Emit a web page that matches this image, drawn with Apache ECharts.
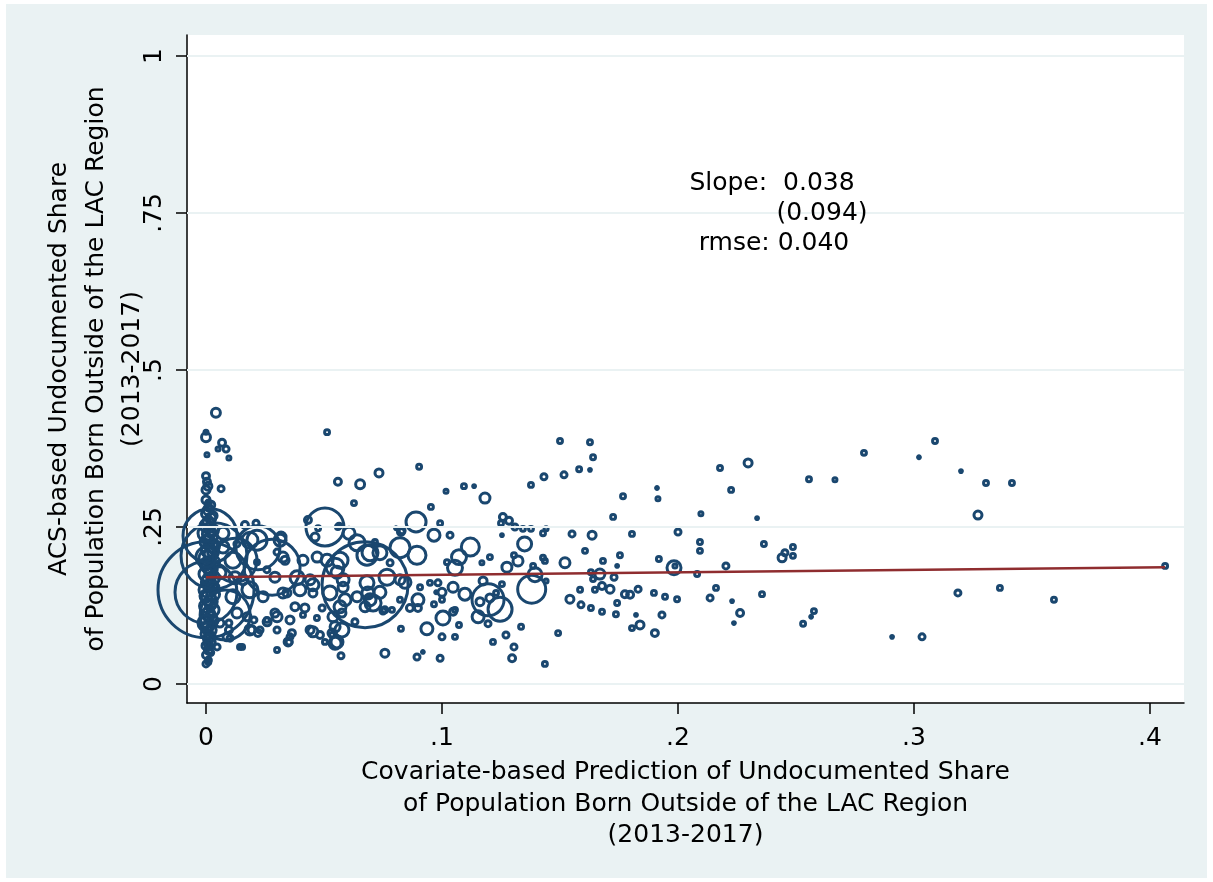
<!DOCTYPE html>
<html>
<head>
<meta charset="utf-8">
<script src="https://cdn.jsdelivr.net/npm/echarts@6/dist/echarts.min.js"></script>
<style>
  html, body { margin: 0; background: #fff; }
  #chart { position: absolute; left: 6px; top: 4px; width: 1201px; height: 874px; }
</style>
</head>
<body>
<div id="chart"></div>
<script>
// [prediction, ACS share, population weight]
const nearZeroColumn = [
  [0.000,0.293,16],[0.002,0.285,16],[0.001,0.277,25],[0.000,0.271,20],[0.002,0.264,25],
  [0.001,0.258,30],[0.000,0.252,36],[0.003,0.245,30],[0.001,0.239,36],[0.002,0.232,42],
  [0.000,0.226,36],[0.003,0.220,42],[0.001,0.213,49],[0.002,0.207,42],[0.000,0.201,49],
  [0.003,0.194,42],[0.001,0.188,49],[0.002,0.182,42],[0.000,0.175,49],[0.003,0.169,42],
  [0.001,0.162,49],[0.002,0.156,42],[0.000,0.150,49],[0.003,0.143,42],[0.001,0.137,49],
  [0.002,0.131,42],[0.000,0.124,42],[0.003,0.118,36],[0.001,0.111,42],[0.002,0.105,36],
  [0.000,0.099,36],[0.001,0.092,30],[0.002,0.086,30],[0.000,0.080,25],[0.001,0.073,25],
  [0.002,0.067,20],[0.000,0.061,16],[0.001,0.054,16],[0.000,0.046,12],[0.001,0.038,9],
  [0.000,0.032,9],
  [0.001,0.281,12],[0.003,0.268,16],[0.000,0.255,20],[0.002,0.242,25],[0.001,0.229,30],
  [0.003,0.210,30],[0.000,0.191,36],[0.002,0.178,36],[0.001,0.166,36],[0.003,0.153,36],
  [0.000,0.140,36],[0.002,0.127,30],[0.001,0.114,30],[0.003,0.101,25],[0.000,0.089,25],
  [0.002,0.076,20],[0.001,0.064,16],[0.002,0.050,9],[0.001,0.035,6]
]

const nearZeroOutliers = [
  [0.0042,0.432,20],[0.000,0.401,4],[0.000,0.393,20],[0.0068,0.384,12],[0.0051,0.374,4],
  [0.0085,0.374,9],[0.0004,0.365,4],[0.0097,0.360,4],[0.000,0.331,12],[0.0004,0.322,12],
  [0.0008,0.315,16],[0.000,0.309,16],[0.0064,0.311,9],[0.001,0.288,9]
]

const bigCircles = [
  [0.000,0.150,2304],[0.000,0.146,961],[0.0017,0.236,729],[0.0034,0.204,1089],
  [0.0081,0.110,625],[0.0123,0.197,484],[0.028,0.186,784],[0.022,0.217,484],
  [0.0504,0.250,361],[0.0674,0.158,1849],[0.1195,0.134,256],[0.138,0.151,196],
  [0.1246,0.119,144],[0.112,0.218,81],[0.135,0.223,49],[0.089,0.258,100],
  [0.0822,0.217,100],[0.0682,0.205,100],[0.0216,0.229,100],[0.000,0.240,64],
  [0.000,0.202,100],[0.000,0.097,64]
]

const lowX = [
  [0.0165,0.253,12],[0.0212,0.256,9],[0.0186,0.229,64],[0.0314,0.229,36],[0.0326,0.202,25],
  [0.0216,0.194,6],[0.0114,0.197,64],[0.0123,0.169,36],[0.0157,0.166,25],[0.0114,0.139,49],
  [0.0186,0.150,64],[0.0242,0.139,25],[0.0131,0.113,25],[0.0174,0.107,16],[0.0186,0.086,25],
  [0.0229,0.086,9],[0.0259,0.099,16],[0.0301,0.107,25],[0.0089,0.075,16],[0.0059,0.097,16],
  [0.0144,0.059,6],[0.0047,0.059,9],[0.0072,0.240,36],[0.0072,0.218,36],[0.0059,0.177,36],
  [0.0131,0.223,9],[0.0318,0.234,25],[0.0335,0.197,16],[0.0301,0.210,9],[0.0292,0.170,25],
  [0.0258,0.182,9],[0.0343,0.145,16],[0.0292,0.113,16],[0.0258,0.102,6],[0.0356,0.102,16],
  [0.0301,0.086,9],[0.0364,0.081,12],[0.0352,0.067,9],[0.0301,0.054,6],[0.0153,0.059,6],
  [0.0102,0.073,9],[0.0097,0.086,12],[0.0195,0.086,16],[0.0220,0.081,12],[0.0203,0.102,9],
  [0.0097,0.097,9],[0.0441,0.086,16],[0.0432,0.261,12],[0.0559,0.250,6],[0.0411,0.197,25],
  [0.0386,0.169,49],[0.0441,0.166,25],[0.0326,0.145,25],[0.0398,0.150,36],[0.0453,0.145,16],
  [0.0377,0.123,16],[0.0419,0.121,16],[0.0492,0.121,9],[0.0411,0.110,6],[0.0453,0.083,25],
  [0.0483,0.078,12],[0.0356,0.075,9],[0.0348,0.067,16]
]

const midX = [
  [0.0695,0.209,64],[0.0826,0.242,12],[0.0555,0.178,36],[0.0581,0.166,36],[0.0682,0.161,49],
  [0.0695,0.134,36],[0.0767,0.170,64],[0.0822,0.166,25],[0.0589,0.134,36],[0.0538,0.107,25],
  [0.0576,0.113,16],[0.0758,0.118,9],[0.0788,0.118,6],[0.0470,0.105,6],[0.0547,0.091,25],
  [0.0576,0.086,49],[0.0534,0.078,6],[0.0547,0.065,36],[0.0631,0.099,9],[0.0758,0.049,16],
  [0.0894,0.043,9],[0.0513,0.401,6],[0.0559,0.322,12],[0.0653,0.318,20],[0.0733,0.336,16],
  [0.0903,0.346,6],[0.1017,0.307,4],[0.0627,0.288,6],[0.0953,0.282,6],[0.0992,0.256,6],
  [0.0966,0.237,36],[0.1034,0.237,9],[0.0831,0.244,9],[0.0805,0.248,2],[0.0475,0.248,6],
  [0.0564,0.252,6],[0.0462,0.234,16],[0.0606,0.240,36],[0.0640,0.225,64],[0.0716,0.226,6],
  [0.0737,0.209,49],[0.0780,0.193,9],[0.0568,0.197,64],[0.0513,0.197,36],[0.0471,0.202,25],
  [0.0547,0.186,81],[0.0894,0.205,81],[0.1072,0.202,56],[0.1021,0.194,6],[0.1055,0.185,56],
  [0.0843,0.162,36],[0.0949,0.161,6],[0.0983,0.161,9],[0.0907,0.154,6],[0.0975,0.146,2],
  [0.1000,0.146,16],[0.1047,0.154,25],[0.0453,0.158,36],[0.0525,0.145,49],[0.0581,0.154,25],
  [0.0640,0.139,25],[0.0686,0.145,36],[0.0737,0.146,36],[0.0708,0.129,64],[0.0674,0.123,25],
  [0.0822,0.134,6],[0.0864,0.121,12],[0.0898,0.134,36],[0.0898,0.121,12],[0.0966,0.127,6],
  [0.1000,0.134,6],[0.0750,0.116,9],[0.0568,0.123,36],[0.0534,0.081,16],[0.0555,0.067,36],
  [0.0504,0.067,6],[0.0826,0.088,6],[0.0936,0.088,36],[0.1004,0.105,49],[0.1047,0.115,12],
  [0.1000,0.075,9],[0.1055,0.075,6],[0.0572,0.045,9],[0.0919,0.051,2],[0.0992,0.041,9]
]

const highX = [
  [0.1500,0.387,6],[0.1627,0.385,6],[0.1640,0.361,6],[0.1581,0.342,6],[0.1627,0.341,2],
  [0.1517,0.333,9],[0.1432,0.330,9],[0.1377,0.317,6],[0.1093,0.315,6],[0.1136,0.315,2],
  [0.1182,0.296,25],[0.1767,0.299,6],[0.1725,0.266,6],[0.1258,0.266,12],[0.1284,0.260,12],
  [0.1250,0.256,6],[0.1309,0.250,9],[0.1343,0.247,6],[0.1377,0.247,6],[0.1441,0.247,4],
  [0.1428,0.240,6],[0.1254,0.237,2],[0.1551,0.239,9],[0.1636,0.237,16],[0.1606,0.212,6],
  [0.1754,0.205,6],[0.1203,0.202,6],[0.1305,0.205,6],[0.1322,0.196,25],[0.1428,0.201,6],
  [0.1436,0.196,6],[0.1682,0.196,6],[0.1742,0.188,2],[0.1521,0.193,25],[0.1275,0.186,25],
  [0.1169,0.193,4],[0.1386,0.188,6],[0.1394,0.174,49],[0.1631,0.178,6],[0.1669,0.175,25],
  [0.1729,0.170,9],[0.1640,0.167,6],[0.1174,0.164,16],[0.1441,0.164,4],[0.1254,0.159,6],
  [0.1678,0.156,12],[0.1712,0.151,16],[0.1585,0.150,6],[0.1648,0.150,6],[0.1097,0.143,36],
  [0.1229,0.145,6],[0.1203,0.137,16],[0.1542,0.135,16],[0.1161,0.131,16],[0.1589,0.126,9],
  [0.1742,0.129,6],[0.1055,0.118,6],[0.1631,0.121,6],[0.1678,0.115,6],[0.1737,0.111,6],
  [0.1153,0.107,36],[0.1195,0.096,9],[0.1072,0.094,6],[0.1335,0.091,6],[0.1492,0.081,6],
  [0.1271,0.078,9],[0.1216,0.067,6],[0.1305,0.059,9],[0.1297,0.041,12],[0.1436,0.032,6]
]

const farX = [
  [0.2297,0.352,16],[0.2178,0.344,6],[0.2225,0.309,6],[0.1911,0.312,2],[0.1915,0.295,4],
  [0.2097,0.271,4],[0.2335,0.264,2],[0.1805,0.239,6],[0.2000,0.242,9],[0.2093,0.226,6],
  [0.2093,0.212,6],[0.2364,0.223,6],[0.2487,0.218,6],[0.2453,0.209,9],[0.2441,0.201,16],
  [0.2487,0.204,6],[0.1919,0.199,6],[0.1983,0.185,49],[0.1987,0.188,4],[0.2203,0.188,9],
  [0.2081,0.175,6],[0.1831,0.151,9],[0.1775,0.143,12],[0.1797,0.142,12],[0.1898,0.145,6],
  [0.1945,0.139,6],[0.1996,0.135,6],[0.2161,0.153,6],[0.2136,0.137,9],[0.2356,0.143,6],
  [0.2229,0.132,2],[0.1822,0.110,2],[0.1932,0.110,9],[0.2263,0.113,12],[0.2237,0.097,2],
  [0.1839,0.094,16],[0.1805,0.089,6],[0.1902,0.081,12],[0.2555,0.326,6],[0.2665,0.325,4],
  [0.2788,0.368,6],[0.3021,0.361,2],[0.3089,0.387,6],[0.3199,0.339,2],[0.3305,0.320,6],
  [0.3415,0.320,6],[0.3271,0.269,16],[0.4064,0.188,6],[0.3186,0.145,9],[0.3364,0.153,6],
  [0.3593,0.134,6],[0.2576,0.116,6],[0.2564,0.107,2],[0.2530,0.096,6],[0.2907,0.075,2],
  [0.3034,0.075,9]
]

// fitted line end points
const fitX = [0, 0.4064]
const fitY = [0.170, 0.186]

const xTicks = [0, 0.1, 0.2, 0.3, 0.4]
const yTicks = [0, 0.25, 0.5, 0.75, 1]

const xTitle = "Covariate-based Prediction of Undocumented Share\nof Population Born Outside of the LAC Region\n(2013-2017)"
const yTitle = "ACS-based Undocumented Share\nof Population Born Outside of the LAC Region\n(2013-2017)"
const statLines = ["Slope:  0.038", "(0.094)", "rmse: 0.040"]

const FONT = "DejaVu Sans"
const NAVY = "#1a476f"

// Stata style: 0 stays "0", 0.25 becomes ".25"
function stataNum(v) {
  if (v === 0) return "0"
  if (v === 1) return "1"
  return String(v).replace(/^0\./, ".")
}

const points = [].concat(nearZeroColumn, nearZeroOutliers, bigCircles, lowX, midX, highX, farX)

const chart = echarts.init(document.getElementById("chart"))

const axisLineStyle = { color: "#000", width: 1.5 }
const labelStyle = { fontFamily: FONT, fontSize: 25, color: "#000" }

function statText(text, x, y) {
  return {
    type: "text", x, y, z: 100,
    style: {
      text, font: "25px 'DejaVu Sans'", fill: "#000",
      align: "center", verticalAlign: "middle", textAlign: "center", textVerticalAlign: "middle"
    }
  }
}

chart.setOption({
  animation: false,
  backgroundColor: "#eaf2f3",
  textStyle: { fontFamily: FONT },
  grid: {
    left: 181, top: 31, right: 23, bottom: 175,
    show: true, backgroundColor: "#fff", borderWidth: 0,
    outerBoundsMode: "none"
  },
  xAxis: {
    type: "value",
    min: -0.00805,
    max: 0.4144,
    splitLine: { show: false },
    axisLine: { onZero: false, lineStyle: axisLineStyle },
    axisTick: { customValues: xTicks, length: 11, lineStyle: axisLineStyle },
    axisLabel: { customValues: xTicks, formatter: stataNum, margin: 23, ...labelStyle },
    name: xTitle,
    nameLocation: "middle",
    nameGap: 54,
    nameMoveOverlap: false,
    nameTextStyle: { ...labelStyle, lineHeight: 31.5 }
  },
  yAxis: {
    type: "value",
    min: -0.0303,
    max: 1.0334,
    splitLine: { show: false },
    axisLine: { onZero: false, lineStyle: axisLineStyle },
    axisTick: { customValues: yTicks, length: 11, lineStyle: axisLineStyle },
    axisLabel: { customValues: yTicks, formatter: stataNum, rotate: 90, margin: 20, ...labelStyle },
    name: yTitle,
    nameLocation: "middle",
    nameGap: 36,
    nameMoveOverlap: false,
    nameTextStyle: { ...labelStyle, lineHeight: 36.5 }
  },
  graphic: [
    statText(statLines[0], 766, 179),
    statText(statLines[1], 816, 209),
    statText(statLines[2], 768, 239)
  ],
  series: [
    {
      // horizontal grid lines at the labelled y ticks
      type: "line",
      data: [],
      silent: true,
      z: 1,
      markLine: {
        silent: true,
        symbol: "none",
        label: { show: false },
        lineStyle: { color: "#eaf2f3", width: 2, type: "solid" },
        data: yTicks.map((v) => ({ yAxis: v }))
      }
    },
    {
      type: "scatter",
      data: points,
      symbol: "circle",
      symbolSize: (d) => 2 * Math.sqrt(d[2]),
      itemStyle: { color: "rgba(0,0,0,0)", borderColor: NAVY, borderWidth: 3, opacity: 1 },
      emphasis: { disabled: true },
      silent: true,
      z: 2
    },
    {
      type: "line",
      data: fitX.map((x, i) => [x, fitY[i]]),
      symbol: "none",
      lineStyle: { color: "#8f2d2f", width: 2.5 },
      silent: true,
      z: 3
    }
  ]
})
</script>
</body>
</html>
